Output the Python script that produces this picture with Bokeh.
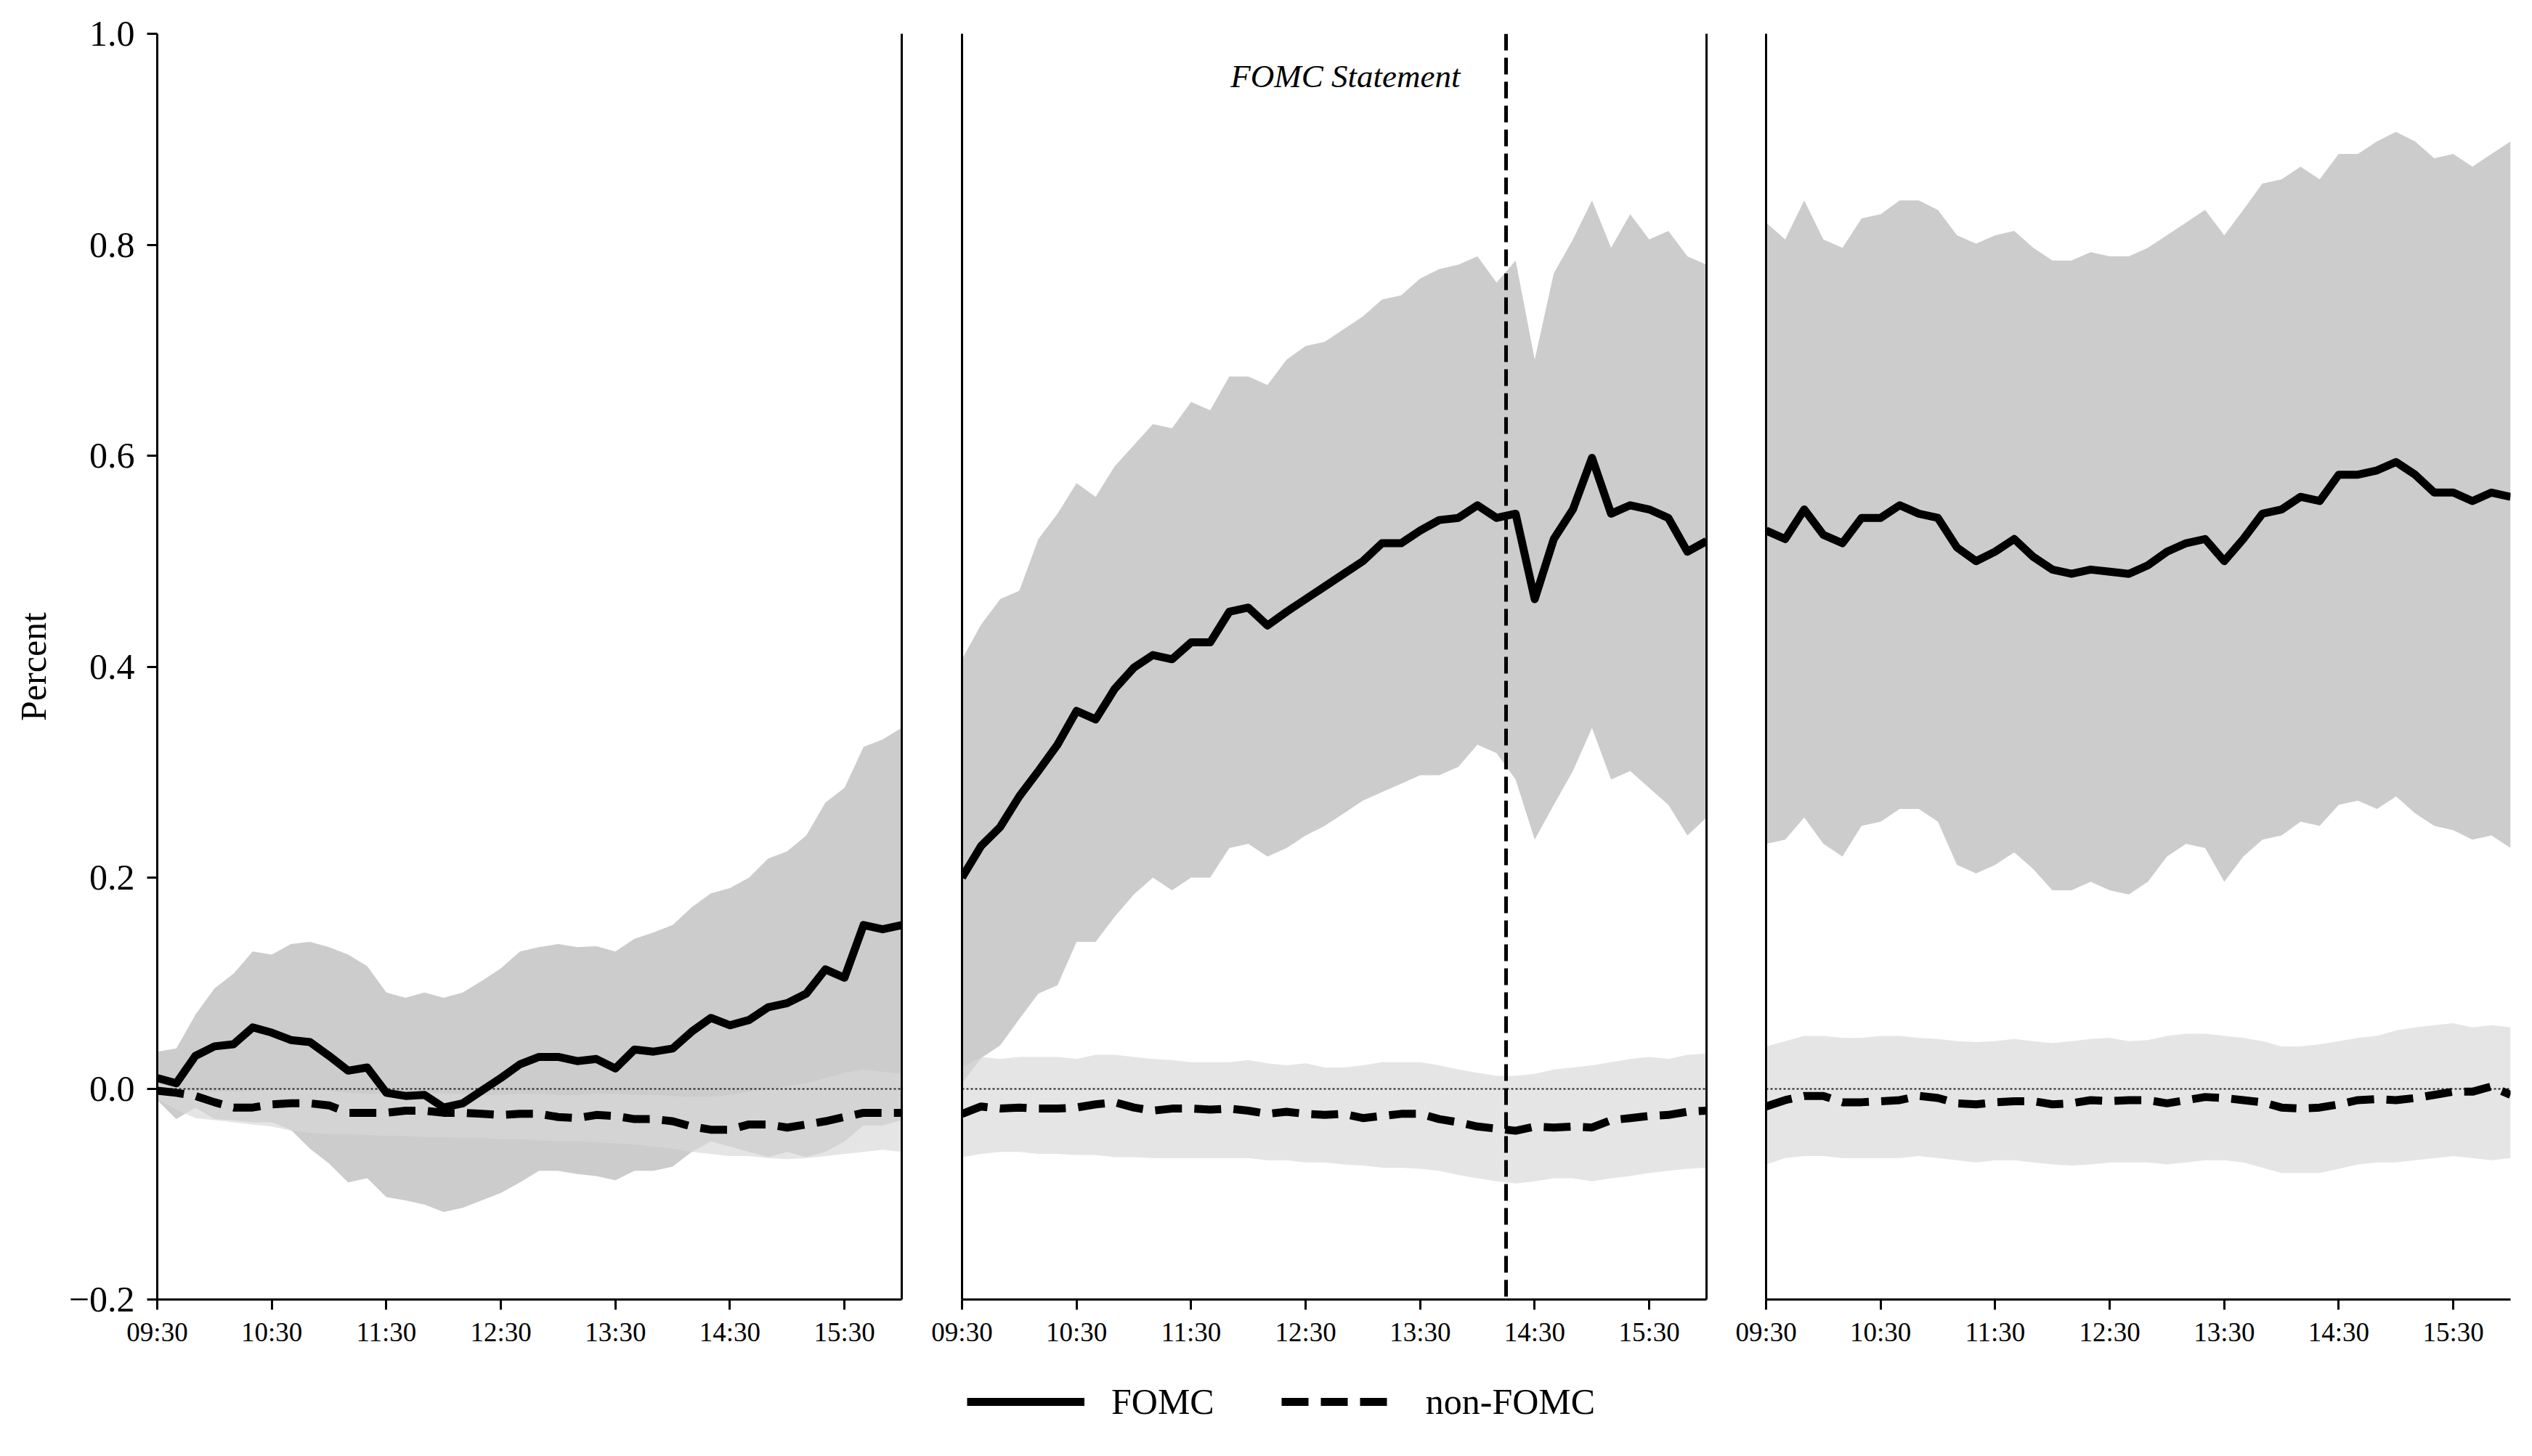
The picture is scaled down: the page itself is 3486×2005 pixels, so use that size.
from bokeh.plotting import figure
from bokeh.models import Range1d, LinearAxis, FixedTicker, Legend, LegendItem
from bokeh.layouts import row, column
from bokeh.core.properties import value
from bokeh.embed import file_html
from bokeh.resources import INLINE

# ---------------- data ----------------
MINUTES = list(range(0, 400, 10))          # minutes after 09:30, 09:30 .. 16:00
XTICKS = [0, 60, 120, 180, 240, 300, 360]
XTICK_LABELS = ["09:30", "10:30", "11:30", "12:30", "13:30", "14:30", "15:30"]
YTICKS = [-0.2, 0.0, 0.2, 0.4, 0.6, 0.8, 1.0]
YTICK_LABELS = ["\u22120.2", "0.0", "0.2", "0.4", "0.6", "0.8", "1.0"]
ZERO_LINE = [0.0]
STATEMENT_TIME = [285]                      # 14:15
STATEMENT_LABEL_X = [261]
STATEMENT_LABEL_Y = [0.96]
STATEMENT_LABEL = ["FOMC Statement"]

# Panel 1 (day before)
P1_FOMC_MEAN = [0.010, 0.005, 0.031, 0.040, 0.042, 0.058, 0.053, 0.046, 0.044, 0.031,
                0.017, 0.020, -0.004, -0.007, -0.006, -0.018, -0.014, -0.002, 0.010, 0.023,
                0.030, 0.030, 0.026, 0.028, 0.019, 0.037, 0.035, 0.038, 0.054, 0.067,
                0.060, 0.065, 0.077, 0.081, 0.090, 0.113, 0.105, 0.155, 0.151, 0.155]
P1_FOMC_HI = [0.035, 0.038, 0.070, 0.095, 0.109, 0.130, 0.127, 0.137, 0.139, 0.134,
              0.127, 0.116, 0.091, 0.086, 0.091, 0.086, 0.091, 0.102, 0.114, 0.130,
              0.134, 0.137, 0.134, 0.135, 0.130, 0.142, 0.148, 0.155, 0.172, 0.185,
              0.190, 0.200, 0.218, 0.225, 0.240, 0.271, 0.285, 0.324, 0.331, 0.342]
P1_FOMC_LO = [-0.011, -0.029, -0.018, -0.029, -0.030, -0.032, -0.032, -0.039, -0.057, -0.071,
              -0.089, -0.085, -0.103, -0.106, -0.110, -0.117, -0.113, -0.106, -0.099, -0.089,
              -0.078, -0.078, -0.081, -0.083, -0.087, -0.078, -0.078, -0.074, -0.060, -0.050,
              -0.055, -0.060, -0.065, -0.060, -0.065, -0.060, -0.050, -0.035, -0.035, -0.030]
P1_NON_MEAN = [-0.002, -0.004, -0.007, -0.013, -0.018, -0.018, -0.015, -0.014, -0.014, -0.016,
               -0.023, -0.023, -0.023, -0.021, -0.021, -0.023, -0.023, -0.024, -0.025, -0.024,
               -0.024, -0.027, -0.028, -0.025, -0.026, -0.029, -0.029, -0.031, -0.036, -0.039,
               -0.039, -0.034, -0.034, -0.037, -0.034, -0.031, -0.027, -0.023, -0.023, -0.023]
P1_NON_HI = [0.005, 0.000, -0.002, -0.003, -0.003, -0.002, -0.001, 0.000, 0.000, -0.002,
             -0.004, -0.005, -0.005, -0.004, -0.004, -0.005, -0.005, -0.006, -0.006, -0.005,
             -0.005, -0.006, -0.006, -0.005, -0.005, -0.006, -0.006, -0.007, -0.008, -0.008,
             -0.006, -0.003, 0.000, 0.002, 0.005, 0.010, 0.015, 0.018, 0.016, 0.014]
P1_NON_LO = [-0.010, -0.020, -0.028, -0.030, -0.032, -0.034, -0.036, -0.040, -0.042, -0.043,
             -0.043, -0.044, -0.045, -0.045, -0.046, -0.046, -0.047, -0.047, -0.048, -0.048,
             -0.049, -0.050, -0.050, -0.051, -0.052, -0.053, -0.055, -0.057, -0.060, -0.062,
             -0.064, -0.064, -0.066, -0.067, -0.066, -0.064, -0.062, -0.060, -0.058, -0.060]

# Panel 2 (announcement day)
P2_FOMC_MEAN = [0.200, 0.230, 0.248, 0.277, 0.301, 0.326, 0.358, 0.350, 0.379, 0.399,
                0.411, 0.407, 0.423, 0.423, 0.452, 0.456, 0.439, 0.452, 0.464, 0.476,
                0.488, 0.500, 0.517, 0.517, 0.529, 0.539, 0.541, 0.553, 0.541, 0.545,
                0.464, 0.521, 0.549, 0.598, 0.545, 0.553, 0.549, 0.541, 0.509, 0.519]
P2_FOMC_HI = [0.407, 0.440, 0.464, 0.472, 0.521, 0.545, 0.574, 0.561, 0.590, 0.610,
              0.630, 0.626, 0.651, 0.643, 0.675, 0.675, 0.667, 0.691, 0.704, 0.708,
              0.720, 0.732, 0.748, 0.752, 0.768, 0.777, 0.781, 0.789, 0.764, 0.785,
              0.691, 0.773, 0.805, 0.842, 0.797, 0.829, 0.805, 0.813, 0.789, 0.781]
P2_FOMC_LO = [0.005, 0.029, 0.041, 0.066, 0.090, 0.098, 0.139, 0.139, 0.163, 0.184,
              0.200, 0.188, 0.200, 0.200, 0.228, 0.232, 0.220, 0.228, 0.240, 0.249,
              0.261, 0.273, 0.281, 0.289, 0.297, 0.297, 0.305, 0.326, 0.318, 0.293,
              0.236, 0.269, 0.301, 0.342, 0.293, 0.301, 0.285, 0.269, 0.240, 0.257]
P2_NON_MEAN = [-0.024, -0.017, -0.019, -0.018, -0.019, -0.019, -0.018, -0.015, -0.013, -0.018,
               -0.021, -0.019, -0.019, -0.020, -0.019, -0.021, -0.024, -0.022, -0.024, -0.025,
               -0.024, -0.028, -0.026, -0.024, -0.024, -0.029, -0.032, -0.036, -0.038, -0.040,
               -0.036, -0.037, -0.036, -0.037, -0.030, -0.028, -0.026, -0.025, -0.022, -0.021]
P2_NON_HI = [0.020, 0.030, 0.028, 0.030, 0.030, 0.030, 0.028, 0.032, 0.032, 0.030,
             0.028, 0.027, 0.025, 0.025, 0.025, 0.027, 0.024, 0.022, 0.024, 0.020,
             0.020, 0.022, 0.025, 0.025, 0.025, 0.022, 0.018, 0.015, 0.012, 0.012,
             0.014, 0.018, 0.020, 0.022, 0.025, 0.028, 0.030, 0.028, 0.032, 0.033]
P2_NON_LO = [-0.065, -0.062, -0.060, -0.060, -0.062, -0.062, -0.063, -0.063, -0.065, -0.065,
             -0.066, -0.066, -0.066, -0.066, -0.066, -0.066, -0.068, -0.068, -0.070, -0.070,
             -0.072, -0.073, -0.075, -0.075, -0.076, -0.078, -0.082, -0.085, -0.088, -0.090,
             -0.088, -0.085, -0.085, -0.088, -0.085, -0.083, -0.080, -0.078, -0.076, -0.075]

# Panel 3 (day after)
P3_FOMC_MEAN = [0.529, 0.521, 0.549, 0.525, 0.517, 0.541, 0.541, 0.553, 0.545, 0.541,
                0.513, 0.500, 0.509, 0.521, 0.504, 0.492, 0.488, 0.492, 0.490, 0.488,
                0.496, 0.509, 0.517, 0.521, 0.500, 0.521, 0.545, 0.549, 0.561, 0.557,
                0.582, 0.582, 0.586, 0.594, 0.582, 0.565, 0.565, 0.557, 0.565, 0.561]
P3_FOMC_HI = [0.821, 0.805, 0.842, 0.805, 0.797, 0.825, 0.829, 0.842, 0.842, 0.833,
              0.809, 0.801, 0.809, 0.813, 0.797, 0.785, 0.785, 0.793, 0.789, 0.789,
              0.797, 0.809, 0.821, 0.833, 0.809, 0.833, 0.858, 0.862, 0.874, 0.862,
              0.886, 0.886, 0.898, 0.907, 0.898, 0.882, 0.886, 0.874, 0.886, 0.898]
P3_FOMC_LO = [0.232, 0.236, 0.257, 0.232, 0.220, 0.249, 0.253, 0.265, 0.265, 0.253,
              0.212, 0.204, 0.212, 0.224, 0.208, 0.188, 0.188, 0.196, 0.188, 0.184,
              0.196, 0.220, 0.232, 0.228, 0.196, 0.220, 0.236, 0.240, 0.253, 0.249,
              0.269, 0.273, 0.265, 0.277, 0.261, 0.249, 0.245, 0.236, 0.240, 0.228]
P3_NON_MEAN = [-0.017, -0.011, -0.007, -0.007, -0.013, -0.013, -0.012, -0.011, -0.007, -0.009,
               -0.014, -0.015, -0.013, -0.012, -0.012, -0.015, -0.014, -0.011, -0.012, -0.011,
               -0.011, -0.014, -0.011, -0.008, -0.009, -0.011, -0.013, -0.018, -0.019, -0.018,
               -0.015, -0.011, -0.010, -0.011, -0.009, -0.006, -0.003, -0.003, 0.002, -0.006]
P3_NON_HI = [0.040, 0.045, 0.050, 0.050, 0.048, 0.048, 0.050, 0.050, 0.048, 0.047,
             0.045, 0.044, 0.045, 0.047, 0.045, 0.043, 0.045, 0.047, 0.048, 0.045,
             0.046, 0.050, 0.052, 0.052, 0.050, 0.048, 0.045, 0.040, 0.040, 0.042,
             0.045, 0.048, 0.050, 0.055, 0.058, 0.060, 0.062, 0.058, 0.060, 0.058]
P3_NON_LO = [-0.072, -0.066, -0.064, -0.064, -0.066, -0.066, -0.066, -0.066, -0.064, -0.066,
             -0.068, -0.070, -0.068, -0.068, -0.070, -0.072, -0.073, -0.072, -0.070, -0.070,
             -0.070, -0.072, -0.070, -0.068, -0.068, -0.070, -0.075, -0.080, -0.080, -0.080,
             -0.076, -0.072, -0.070, -0.070, -0.068, -0.066, -0.064, -0.066, -0.068, -0.066]

PANELS = [
    (P1_FOMC_MEAN, P1_FOMC_LO, P1_FOMC_HI, P1_NON_MEAN, P1_NON_LO, P1_NON_HI),
    (P2_FOMC_MEAN, P2_FOMC_LO, P2_FOMC_HI, P2_NON_MEAN, P2_NON_LO, P2_NON_HI),
    (P3_FOMC_MEAN, P3_FOMC_LO, P3_FOMC_HI, P3_NON_MEAN, P3_NON_LO, P3_NON_HI),
]

# ---------------- style ----------------
FONT = "Liberation Serif"
FRAME_W, FRAME_H = 1025, 1743
LINE_W = 11
DASH = "37 17"
DARK_BAND = "#cccccc"
LIGHT_BAND = (216, 216, 216)
LIGHT_ALPHA = 0.667
AXIS_W = 3

y_range = Range1d(-0.2, 1.0)
borders = [(216, 40), (43, 40), (42, 20)]
figs = []
for i, (fm, flo, fhi, nm, nlo, nhi) in enumerate(PANELS):
    bl, br = borders[i]
    p = figure(frame_width=FRAME_W, frame_height=FRAME_H,
               x_range=Range1d(0, 390), y_range=y_range,
               toolbar_location=None, output_backend="svg",
               min_border_left=bl, min_border_right=br,
               min_border_top=46, min_border_bottom=84)
    p.outline_line_color = None
    p.grid.visible = False
    p.background_fill_color = "white"

    # bands
    p.varea(x=MINUTES, y1=flo, y2=fhi, fill_color=DARK_BAND, fill_alpha=1.0)
    p.varea(x=MINUTES, y1=nlo, y2=nhi, fill_color=LIGHT_BAND, fill_alpha=LIGHT_ALPHA)
    # zero line
    p.hspan(y=ZERO_LINE, line_color="#222222", line_width=2, line_dash="3 3")
    # lines
    p.line(x=MINUTES, y=fm, line_color="black", line_width=LINE_W, line_join="round")
    p.line(x=MINUTES, y=nm, line_color="black", line_width=LINE_W, line_dash=DASH)

    if i == 1:
        p.vspan(x=STATEMENT_TIME, line_color="black", line_width=5, line_dash="23 10")
        p.text(x=STATEMENT_LABEL_X, y=STATEMENT_LABEL_Y, text=STATEMENT_LABEL,
               text_align="right", text_baseline="middle",
               text_font=value(FONT), text_font_style="italic", text_font_size="45px",
               text_color="black")

    # x axis
    xa = p.xaxis[0]
    xa.ticker = FixedTicker(ticks=XTICKS)
    xa.major_label_overrides = {t: l for t, l in zip(XTICKS, XTICK_LABELS)}
    xa.major_label_text_font = FONT
    xa.major_label_text_font_size = "37px"
    xa.major_label_text_color = "black"
    xa.major_tick_out = 14
    xa.major_tick_in = 0
    xa.major_tick_line_width = AXIS_W
    xa.minor_tick_line_color = None
    xa.axis_line_width = AXIS_W
    xa.axis_line_color = "black"
    xa.major_label_standoff = 10

    ya = p.yaxis[0]
    ya.axis_line_width = AXIS_W
    ya.axis_line_color = "black"
    ya.minor_tick_line_color = None
    if i == 0:
        ya.ticker = FixedTicker(ticks=YTICKS)
        ya.major_label_overrides = {t: l for t, l in zip(YTICKS, YTICK_LABELS)}
        ya.major_label_text_font = FONT
        ya.major_label_text_font_size = "50px"
        ya.major_label_text_color = "black"
        ya.major_tick_out = 14
        ya.major_tick_in = 0
        ya.major_tick_line_width = AXIS_W
        ya.major_label_standoff = 17
        ya.axis_label = "Percent"
        ya.axis_label_text_font = FONT
        ya.axis_label_text_font_size = "50px"
        ya.axis_label_text_font_style = "normal"
        ya.axis_label_text_color = "black"
        ya.axis_label_standoff = 18
    else:
        ya.ticker = FixedTicker(ticks=[])
        ya.major_tick_line_color = None

    if i < 2:
        ra = LinearAxis(ticker=FixedTicker(ticks=[]), axis_line_width=AXIS_W,
                        axis_line_color="black", major_tick_line_color=None,
                        minor_tick_line_color=None)
        p.add_layout(ra, "right")
    figs.append(p)

# legend strip (its lines lie outside its visible range; only the legend shows)
total_w = sum(bl + FRAME_W + br for bl, br in borders)
lg = figure(width=total_w, height=110, x_range=Range1d(0, 1), y_range=Range1d(10, 11),
            toolbar_location=None, output_backend="svg", min_border=0)
lg.axis.visible = False
lg.grid.visible = False
lg.outline_line_color = None
r1 = lg.line(x=MINUTES, y=P2_FOMC_MEAN, line_color="black", line_width=11)
r2 = lg.line(x=MINUTES, y=P2_NON_MEAN, line_color="black", line_width=11, line_dash=DASH)
legend = Legend(items=[LegendItem(label="FOMC", renderers=[r1]),
                       LegendItem(label="non-FOMC", renderers=[r2])],
                orientation="horizontal", location=(1331, 24),
                glyph_width=162, glyph_height=50, label_height=50,
                label_standoff=37, spacing=92, padding=0, margin=0,
                border_line_color=None, background_fill_alpha=0,
                label_text_font=FONT, label_text_font_size="50px",
                label_text_color="black")
lg.add_layout(legend)

layout = column(row(*figs), lg)
open("out.html", "w").write(file_html(layout, INLINE, title="FOMC"))
